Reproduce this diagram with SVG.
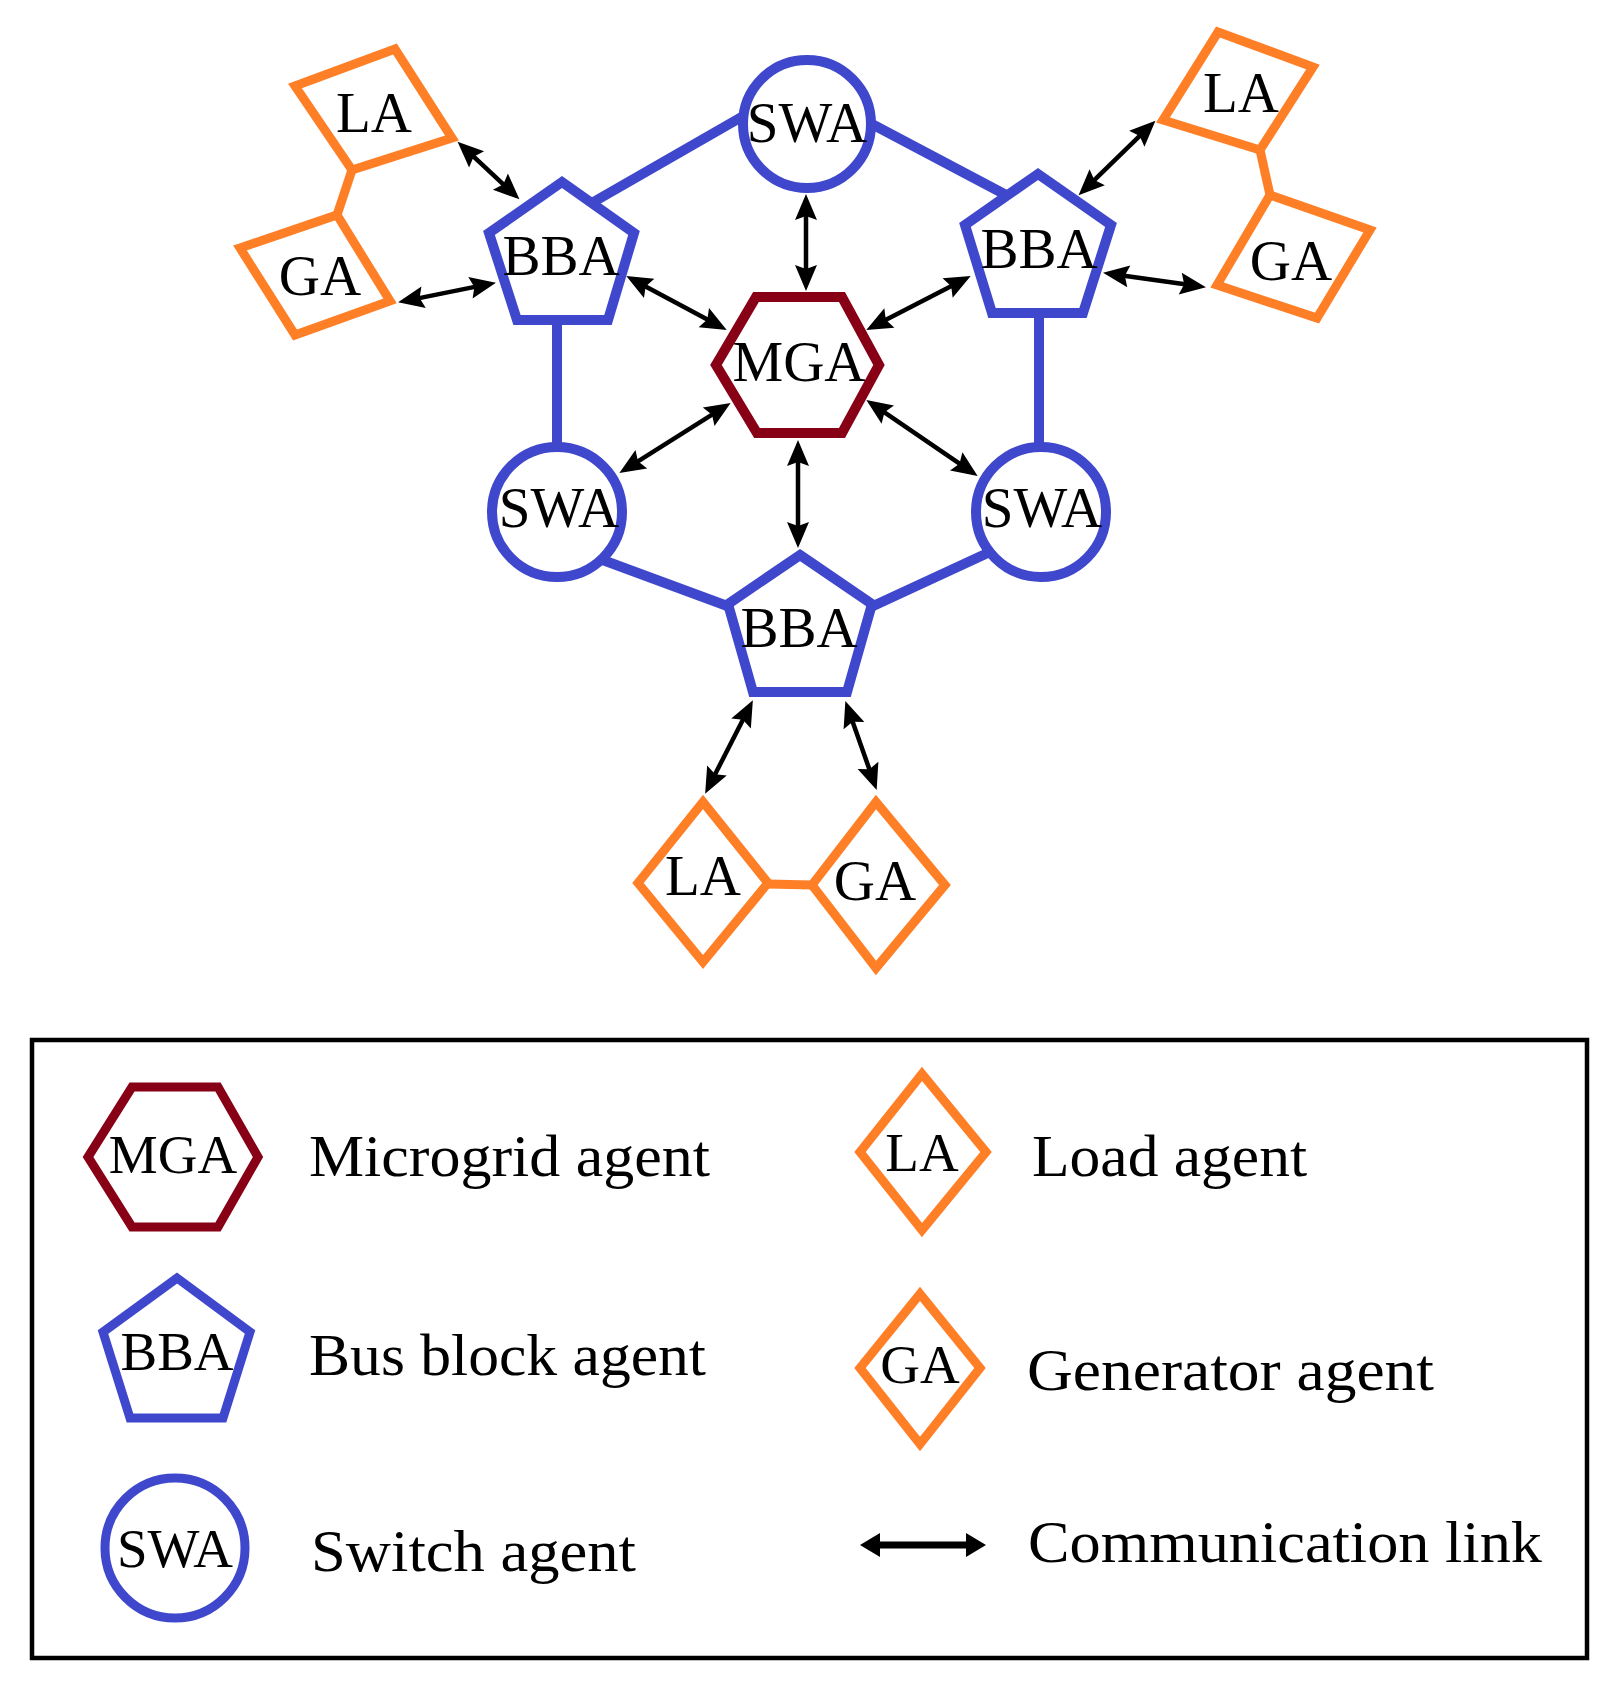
<svg xmlns="http://www.w3.org/2000/svg" width="1624" height="1700" viewBox="0 0 1624 1700">
<style>
.blue{fill:#fff;stroke:#3f48cc;stroke-width:10;stroke-linejoin:miter}
.red{fill:#fff;stroke:#880015;stroke-width:10}
.org{fill:#fff;stroke:#ff7f27;stroke-width:9;stroke-linejoin:miter}
.bl{stroke:#3f48cc;stroke-width:10;fill:none}
.ol{stroke:#ff7f27;stroke-width:9;fill:none}
.ar{stroke:#000;stroke-width:4.5;fill:none;marker-start:url(#ah);marker-end:url(#ah)}
.lg .blue,.lg .red,.lg .org{stroke-width:9}
text{font-family:"Liberation Serif","Times New Roman",serif;fill:#000}
.nt{font-size:57px;text-anchor:middle}
.lg .nt{font-size:55px}
.lt{font-size:60px}
</style>
<defs>
<marker id="ah" markerUnits="userSpaceOnUse" markerWidth="26" markerHeight="22" refX="12" refY="11" orient="auto-start-reverse" overflow="visible">
<path d="M0,0 L26,11 L0,22 L4,11 z" fill="#000"/>
</marker>
<marker id="ah2" markerUnits="userSpaceOnUse" markerWidth="20" markerHeight="24" refX="1" refY="12" orient="auto-start-reverse" overflow="visible">
<path d="M0,0 L20,12 L0,24 z" fill="#000"/>
</marker>
</defs>
<rect width="1624" height="1700" fill="#fff"/>

<g id="connectors">
<line class="bl" x1="590" y1="204" x2="745" y2="115"/>
<line class="bl" x1="868" y1="122" x2="1008" y2="196"/>
<line class="bl" x1="557" y1="318" x2="557" y2="450"/>
<line class="bl" x1="1039" y1="311" x2="1039" y2="450"/>
<line class="bl" x1="600" y1="559" x2="730" y2="607"/>
<line class="bl" x1="992" y1="551" x2="871" y2="607"/>
<line class="ol" x1="352" y1="170" x2="337" y2="215"/>
<line class="ol" x1="1260" y1="150" x2="1270" y2="195"/>
<line class="ol" x1="768" y1="884" x2="812" y2="885"/>
<line class="ar" x1="467.8" y1="151.2" x2="509.2" y2="189.8"/>
<line class="ar" x1="411.8" y1="299.6" x2="482.2" y2="285.4"/>
<line class="ar" x1="638.6" y1="282.7" x2="714.4" y2="323.3"/>
<line class="ar" x1="806" y1="208" x2="806" y2="277"/>
<line class="ar" x1="878.7" y1="323.5" x2="958.3" y2="282.5"/>
<line class="ar" x1="1088.6" y1="185.6" x2="1145.4" y2="130.4"/>
<line class="ar" x1="1116.9" y1="274.7" x2="1192.1" y2="285.3"/>
<line class="ar" x1="718.8" y1="410.4" x2="631.2" y2="465.6"/>
<line class="ar" x1="877.9" y1="407.8" x2="966.1" y2="468.2"/>
<line class="ar" x1="798" y1="454" x2="798" y2="534"/>
<line class="ar" x1="746.5" y1="712.7" x2="711.5" y2="781.3"/>
<line class="ar" x1="850" y1="714.3" x2="872" y2="776.7"/>
</g>

<g id="mga">
<polygon class="red" points="756,297 842,297 879,365 842,433 757,433 716,365"/>
<text class="nt" x="799" y="381">MGA</text>
</g>
<g id="swa-top">
<circle class="blue" cx="807" cy="124" r="64"/>
<text class="nt" x="807" y="142">SWA</text>
</g>
<g id="swa-left">
<circle class="blue" cx="557" cy="512" r="65"/>
<text class="nt" x="559" y="527">SWA</text>
</g>
<g id="swa-right">
<circle class="blue" cx="1041" cy="512" r="65"/>
<text class="nt" x="1042" y="527">SWA</text>
</g>
<g id="bba-left">
<polygon class="blue" points="562,182 634,233 608,320 517,320 489,233"/>
<text class="nt" x="561" y="275">BBA</text>
</g>
<g id="bba-right">
<polygon class="blue" points="1038,174 1111,225 1083,313 992,313 965,225"/>
<text class="nt" x="1039" y="268">BBA</text>
</g>
<g id="bba-bottom">
<polygon class="blue" points="800,555 872,604 847,692 753,692 728,604"/>
<text class="nt" x="799" y="647">BBA</text>
</g>
<g id="la-left">
<polygon class="org" points="295,86 395,49 452,138 352,170"/>
<text class="nt" x="374" y="132">LA</text>
</g>
<g id="ga-left">
<polygon class="org" points="240,248 337,215 390,301 295,335"/>
<text class="nt" x="320" y="295">GA</text>
</g>
<g id="la-right">
<polygon class="org" points="1163,120 1218,32 1313,67 1260,150"/>
<text class="nt" x="1241" y="112">LA</text>
</g>
<g id="ga-right">
<polygon class="org" points="1217,285 1270,195 1370,230 1317,318"/>
<text class="nt" x="1291" y="280">GA</text>
</g>
<g id="la-bottom">
<polygon class="org" points="638,883 703,802 768,883 703,962"/>
<text class="nt" x="703" y="895">LA</text>
</g>
<g id="ga-bottom">
<polygon class="org" points="812,885 876,802 945,885 876,968"/>
<text class="nt" x="875" y="900">GA</text>
</g>

<g id="legend" class="lg">
<rect x="32" y="1040" width="1555" height="618" fill="none" stroke="#000" stroke-width="4.5"/>
<g id="legend-mga">
<polygon class="red" points="132,1087 218,1087 258,1157 218,1227 132,1227 88,1157"/>
<text class="nt" x="173" y="1173">MGA</text>
<text class="lt" x="309" y="1176" textLength="401" lengthAdjust="spacingAndGlyphs">Microgrid agent</text>
</g>
<g id="legend-bba">
<polygon class="blue" points="177,1278 250,1332 223,1418 130,1418 103,1332"/>
<text class="nt" x="177" y="1370">BBA</text>
<text class="lt" x="309" y="1375" textLength="397" lengthAdjust="spacingAndGlyphs">Bus block agent</text>
</g>
<g id="legend-swa">
<circle class="blue" cx="175" cy="1548" r="70"/>
<text class="nt" x="175" y="1567">SWA</text>
<text class="lt" x="311" y="1571" textLength="325" lengthAdjust="spacingAndGlyphs">Switch agent</text>
</g>
<g id="legend-la">
<polygon class="org" points="860,1152 922,1074 986,1152 922,1230"/>
<text class="nt" x="922" y="1171">LA</text>
<text class="lt" x="1032" y="1176" textLength="275" lengthAdjust="spacingAndGlyphs">Load agent</text>
</g>
<g id="legend-ga">
<polygon class="org" points="860,1368 920,1294 980,1368 920,1444"/>
<text class="nt" x="920" y="1383">GA</text>
<text class="lt" x="1027" y="1390" textLength="407" lengthAdjust="spacingAndGlyphs">Generator agent</text>
</g>
<g id="legend-link">
<line x1="879" y1="1545" x2="967" y2="1545" stroke="#000" stroke-width="7" marker-start="url(#ah2)" marker-end="url(#ah2)"/>
<text class="lt" x="1028" y="1562" textLength="514" lengthAdjust="spacingAndGlyphs">Communication link</text>
</g>
</g>
</svg>
